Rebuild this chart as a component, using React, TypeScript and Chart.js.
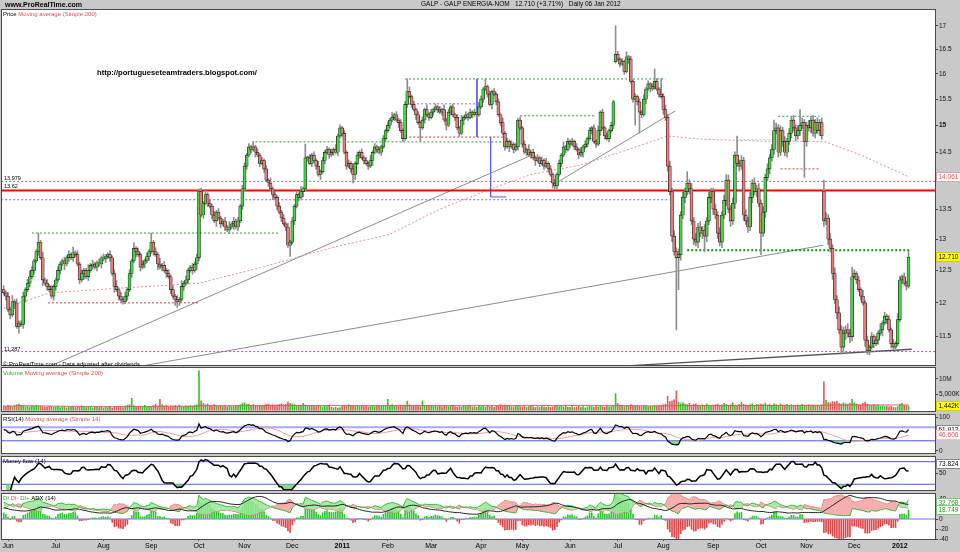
import React, { useEffect, useRef } from "react";
import { Chart, registerables } from "chart.js";
Chart.register(...registerables);

// ---------------- DATA ----------------
// daily closes, 28 May 2010 .. 06 Jan 2012 (index 0 = 28 May 2010)
const closes: number[] = [
  // Jun 2010 (incl. 2 last May days)
  12.15, 12.1, 11.9, 11.82, 12.02, 12.0, 11.65, 11.7, 11.68, 12.1, 12.2, 12.3, 12.4, 12.5, 12.65, 12.8, 12.95, 12.7, 12.35, 12.3, 12.25, 12.2, 12.1, 12.25,
  // Jul
  12.35, 12.5, 12.6, 12.65, 12.6, 12.7, 12.75, 12.7, 12.78, 12.75, 12.6, 12.35, 12.45, 12.5, 12.4, 12.5, 12.58, 12.6, 12.55, 12.62, 12.6, 12.7,
  // Aug
  12.68, 12.72, 12.75, 12.7, 12.45, 12.25, 12.2, 12.1, 12.05, 12.02, 12.1, 12.2, 12.45, 12.65, 12.85, 12.8, 12.75, 12.55, 12.6, 12.65, 12.72, 12.8,
  // Sep
  12.95, 12.8, 12.75, 12.6, 12.55, 12.58, 12.5, 12.45, 12.4, 12.2, 12.1, 12.05, 12.02, 12.05, 12.25, 12.3, 12.35, 12.5, 12.55, 12.5, 12.6, 12.7,
  // Oct
  13.8, 13.4, 13.6, 13.75, 13.6, 13.55, 13.4, 13.3, 13.45, 13.35, 13.25, 13.3, 13.2, 13.15, 13.2, 13.25, 13.3, 13.2, 13.3, 13.55, 13.85,
  // Nov
  14.25, 14.45, 14.6, 14.55, 14.6, 14.5, 14.45, 14.3, 14.35, 14.2, 14.0, 13.95, 13.85, 13.75, 13.7, 13.55, 13.45, 13.35, 13.25, 13.2, 12.9, 12.95,
  // Dec
  13.3, 13.55, 13.75, 13.7, 13.8, 13.85, 14.4, 14.4, 14.3, 14.45, 14.35, 14.25, 14.1, 14.15, 14.35, 14.5, 14.55, 14.45, 14.5, 14.55, 14.5, 14.8, 14.95,
  // Jan 2011
  14.85, 14.5, 14.25, 14.3, 14.2, 14.1, 14.3, 14.45, 14.5, 14.4, 14.35, 14.3, 14.25, 14.35, 14.5, 14.6, 14.55, 14.5, 14.6, 14.75, 14.9,
  // Feb
  15.0, 15.1, 15.15, 15.2, 15.1, 15.05, 14.9, 14.75, 15.4, 15.65, 15.55, 15.4, 15.3, 15.2, 15.05, 14.95, 15.1, 15.3, 15.2, 15.15,
  // Mar
  15.25, 15.3, 15.35, 15.3, 15.25, 15.3, 15.1, 15.0, 15.25, 15.35, 15.2, 15.15, 14.95, 14.85, 15.1, 15.15, 15.2, 15.15, 15.25, 15.2, 15.25, 15.2, 15.35,
  // Apr
  15.5, 15.7, 15.75, 15.6, 15.4, 15.65, 15.6, 15.45, 15.2, 15.05, 14.85, 14.6, 14.7, 14.6, 14.65, 14.55, 14.6, 15.1, 14.95,
  // May
  14.65, 14.5, 14.55, 14.45, 14.5, 14.4, 14.35, 14.4, 14.3, 14.35, 14.25, 14.3, 14.2, 14.1, 13.95, 13.9, 14.1, 14.3, 14.45, 14.6, 14.55, 14.7,
  // Jun
  14.65, 14.7, 14.6, 14.55, 14.45, 14.5, 14.6, 14.65, 14.75, 14.9, 14.95, 14.7, 14.65, 14.9, 15.25, 14.95, 14.8, 14.75, 14.9, 15.0, 15.45, 16.4,
  // Jul
  16.3, 16.2, 16.25, 16.05, 16.35, 16.3, 15.85, 15.5, 15.55, 15.45, 15.25, 15.2, 15.5, 15.7, 15.8, 15.7, 15.75, 15.85, 15.7, 15.6, 15.55,
  // Aug
  15.3, 15.15, 14.25, 13.8, 13.05, 12.8, 12.7, 12.75, 13.4, 13.7, 13.8, 13.95, 13.85, 13.3, 13.0, 12.95, 13.2, 13.1, 13.15, 13.05, 13.3, 13.7, 13.8,
  // Sep
  13.5, 13.4, 13.1, 12.95, 13.4, 13.65, 14.0, 13.5, 13.3, 13.6, 14.45, 14.3, 14.25, 14.35, 13.4, 13.3, 13.2, 13.7, 13.95, 13.8, 13.85, 13.6,
  // Oct
  13.1, 13.45, 14.05, 14.2, 14.4, 14.55, 14.9, 14.95, 14.5, 14.9, 14.7, 14.5, 14.7, 14.85, 15.1, 14.95, 14.8, 14.9, 15.0, 15.05, 14.7,
  // Nov
  15.0, 14.95, 15.1, 14.85, 15.05, 14.9, 15.05, 14.8, 13.3, 13.35, 13.0, 12.85, 12.45, 12.05, 11.85, 11.6, 11.35, 11.55, 11.6, 11.55, 11.5, 12.4,
  // Dec
  12.45, 12.35, 12.2, 12.1, 12.0, 11.45, 11.3, 11.35, 11.5, 11.4, 11.45, 11.55, 11.6, 11.7, 11.8, 11.75, 11.6, 11.4, 11.35, 11.4, 11.75,
  // Jan 2012
  12.35, 12.4, 12.3, 12.255, 12.71,
];

const firstOpen = 12.2;
const gapOpenIdx = [282, 378];
const gapOpenVal = [16.25, 13.8];

// wick lengths, one digit per day (x 0.03)
const wickUpCodes =
  "212131211212321121312121" + "1211212131212113121121" + "2112123121212131212121" + "2121312121212131211212" +
  "221312121211213121212" + "2121312121213121212121" + "21213121212131212121312" + "121213121212131212121" +
  "21312121213121212131" + "21212131212121312121213" + "2131212121312121212" + "1213121212131212121312" +
  "1212131212121312121213" + "212131212121312121213" + "23232323232323232323232" + "2323232323232323232323" +
  "232323232323232323232" + "2323232323232323232323" + "212131212121312121213" + "21213";
const wickDnCodes =
  "121213121231212121312112" + "2121312121121312121212" + "1212131212121213121212" + "1213121212131212121213" +
  "312121213121212131212" + "1212131212121312121212" + "12121312121213121212121" + "212121312121213121212" +
  "12121312121213121212" + "12121213121212131212121" + "1212131212121312121" + "2121213121212131212121" +
  "2121213121212131212121" + "121213121212131212121" + "32323232323232323232323" + "3232323232323232323232" +
  "323232323232323232323" + "3232323232323232323232" + "121213121212131212121" + "12121";
const WICK_UNIT = 0.03;

const highIdx = [16, 68, 90, 115, 139, 186, 222, 282, 287, 300, 303, 315, 333, 338, 355, 367, 378, 391];
const highVal = [13.1, 13.1, 13.85, 14.7, 14.65, 15.9, 15.9, 17.0, 16.45, 16.1, 15.9, 14.15, 14.1, 14.8, 15.1, 15.3, 14.0, 12.55];
const lowIdx = [7, 55, 80, 90, 132, 161, 192, 254, 291, 293, 310, 311, 323, 349, 369, 386, 398];
const lowVal = [11.55, 11.98, 11.93, 12.65, 12.72, 13.95, 14.7, 13.85, 15.0, 14.85, 11.6, 12.2, 12.8, 12.75, 14.05, 11.25, 11.25];

// daily volume, millions
const volumesM: number[] = [
  1.4, 1.2, 1.6, 1.3, 1.1, 1.5, 1.8, 2.0, 1.6, 1.4, 1.2, 1.3, 1.1, 1.5, 1.2, 1.6, 1.4, 1.3, 1.2, 1.0, 1.1, 1.3, 1.2, 1.0,
  1.1, 1.3, 0.9, 1.0, 1.2, 0.8, 1.1, 1.0, 1.3, 0.9, 1.2, 1.0, 1.4, 1.1, 0.9, 1.0, 1.2, 0.8, 1.0, 1.1, 0.9, 1.2,
  0.8, 1.0, 0.9, 1.1, 0.7, 1.3, 1.1, 1.2, 1.0, 0.9, 1.4, 1.6, 1.8, 3.8, 1.5, 1.2, 1.0, 1.3, 1.1, 1.6, 1.0, 1.2,
  1.2, 1.5, 2.0, 1.4, 3.5, 1.8, 1.3, 1.6, 1.2, 1.4, 1.1, 1.5, 1.3, 1.7, 1.2, 1.1, 1.4, 1.2, 1.5, 1.3, 1.6, 1.8,
  12.5, 3.0, 2.2, 1.8, 2.0, 1.6, 1.4, 1.8, 1.5, 1.3, 1.6, 1.2, 1.4, 1.1, 1.5, 1.3, 1.2, 1.4, 1.6, 1.8, 2.2,
  2.4, 1.9, 2.0, 1.6, 1.8, 1.5, 1.4, 1.6, 1.3, 1.7, 1.9, 2.0, 1.6, 1.8, 1.5, 1.7, 1.9, 2.1, 1.8, 2.0, 2.6, 2.2,
  2.0, 1.8, 1.6, 1.5, 1.4, 2.2, 1.7, 1.5, 1.3, 1.6, 1.4, 1.2, 1.5, 1.3, 1.1, 1.4, 1.2, 1.6, 1.0, 0.8, 1.0, 0.7, 0.9,
  1.4, 1.6, 1.3, 1.8, 1.5, 1.4, 1.2, 1.6, 1.3, 1.5, 1.2, 1.4, 1.1, 1.3, 1.5, 1.2, 1.4, 1.6, 1.3, 1.5, 1.4,
  3.5, 1.6, 1.8, 1.4, 1.5, 1.3, 1.6, 1.4, 1.7, 2.9, 1.8, 1.5, 1.3, 1.6, 1.4, 1.2, 3.0, 1.6, 1.4, 1.3,
  1.5, 1.3, 1.6, 1.2, 1.4, 1.1, 1.5, 1.3, 1.2, 1.4, 1.6, 1.2, 1.0, 1.3, 1.1, 1.4, 1.2, 1.5, 1.3, 1.1, 1.2, 1.0, 1.3,
  1.2, 1.4, 1.1, 1.5, 1.2, 1.3, 1.0, 1.4, 1.6, 1.8, 1.5, 1.7, 1.3, 1.4, 1.2, 1.1, 1.5, 1.3, 1.2,
  1.1, 1.3, 1.0, 1.2, 1.4, 1.1, 0.9, 1.2, 1.0, 1.3, 1.1, 1.0, 1.2, 0.9, 1.1, 1.3, 1.5, 1.2, 1.4, 1.1, 1.3, 1.0,
  1.0, 1.2, 0.9, 1.1, 1.3, 1.0, 1.2, 0.8, 1.1, 1.4, 1.2, 1.0, 1.3, 1.1, 1.5, 1.2, 1.0, 1.3, 1.1, 1.2, 1.6, 5.3,
  2.2, 1.5, 1.4, 1.2, 1.6, 1.3, 1.8, 1.5, 1.4, 1.6, 1.3, 1.2, 1.5, 1.4, 1.1, 1.3, 1.2, 1.5, 1.3, 1.4, 1.6,
  1.8, 2.0, 4.5, 2.8, 3.0, 3.4, 6.2, 2.6, 2.2, 2.5, 2.0, 1.8, 2.2, 1.6, 1.9, 2.1, 1.7, 1.5, 1.8, 1.6, 2.0, 1.7, 1.5,
  1.6, 1.8, 2.0, 1.5, 1.7, 2.2, 1.9, 1.6, 1.8, 2.4, 1.7, 1.5, 1.9, 2.6, 2.0, 1.7, 1.5, 1.8, 2.1, 1.6, 1.9, 1.7,
  2.0, 1.8, 2.3, 1.7, 1.9, 1.6, 2.1, 1.8, 1.5, 2.0, 1.7, 1.6, 1.9, 1.5, 1.8, 1.4, 1.6, 1.7, 1.5, 1.9, 1.6,
  1.5, 1.8, 1.6, 1.7, 1.4, 1.6, 1.5, 1.8, 9.0, 3.2, 2.5, 2.4, 2.8, 2.6, 2.9, 2.2, 2.0, 2.4, 2.1, 1.9, 2.2, 3.5,
  2.4, 2.0, 1.8, 1.6, 2.2, 2.6, 2.0, 1.7, 1.5, 1.8, 1.4, 1.6, 1.3, 1.5, 1.2, 1.4, 1.1, 1.3, 1.0, 0.9, 1.2,
  2.0, 2.2, 1.6, 1.5, 1.442,
];

// 200-day moving average of price, read at sample days
const ma200Idx = [0, 12, 21, 52, 90, 118, 150, 178, 201, 224, 243, 266, 284, 306, 322, 353, 378, 395, 417];
const ma200Val = [11.92, 12.05, 12.15, 12.22, 12.3, 12.54, 12.85, 13.08, 13.5, 13.84, 14.1, 14.27, 14.5, 14.8, 14.74, 14.7, 14.7, 14.45, 14.06];

// x axis: first trading day of each month
const monthIdx = [2, 24, 46, 68, 90, 111, 133, 156, 177, 197, 220, 239, 261, 283, 304, 327, 349, 370, 392, 413];
const monthLabels = ["Jun", "Jul", "Aug", "Sep", "Oct", "Nov", "Dec", "2011", "Feb", "Mar", "Apr", "May", "Jun", "Jul", "Aug", "Sep", "Oct", "Nov", "Dec", "2012"];

const priceTicks = [11.5, 12, 12.5, 13, 13.5, 14, 14.5, 15, 15.5, 16, 16.5, 17];
const volTicks = [5, 10];
const volTickLabels = ["5,000K", "10M"];
const rsiTicks = [0, 100];
const mfiTicks = [50];
const dmiTicks = [-40, -20, 0, 40];

// drawn support / resistance levels
const levelPrice = [13.82, 13.979, 13.66, 11.287, 13.1, 14.69, 15.9, 15.18, 12.82, 15.17, 14.73, 12.0, 14.78, 14.2, 15.41];
const levelFrom = [-3, -3, -3, -3, 13, 116, 185, 238, 315, 357, 339, 20.4, 185, 358, 185];
const levelTo = [432, 432, 307, 432, 127.3, 231, 305, 273, 418, 376, 355, 90.5, 231, 376, 219.5];
const levelKind = ["redSolid", "purple", "purple", "purple", "green", "green", "green", "green", "greenBold", "green", "greenLight", "red", "red", "red", "purple"];

// trend lines (start index/price, end index/price)
const trendStartIdx = [21.3, 62.9, 253.3, 284];
const trendStartPrice = [11.08, 11.08, 13.92, 11.08];
const trendEndIdx = [243.5, 377.6, 309.4, 418.5];
const trendEndPrice = [14.45, 12.9, 15.27, 11.32];

// blue annotation segments
const markFromIdx = [218.1, 224.4, 224.4];
const markFromPrice = [15.9, 14.78, 13.71];
const markToIdx = [218.1, 224.4, 231.7];
const markToPrice = [14.78, 13.71, 13.71];

// last-value boxes shown on the right axis
const lastMa = 14.061;
const lastVolK = 1442;
const lastRsi = 61.912;
const lastRsiMa = 46.606;
const lastMfi = 73.824;
const lastDi1 = 32.768;
const lastDi2 = 18.749;

// ---------------- DERIVED ----------------
const N = closes.length;
const idx = closes.map((_, i) => i);
const opens = closes.map((c, i) => {
  const g = gapOpenIdx.indexOf(i);
  if (g >= 0) return gapOpenVal[g];
  return i === 0 ? firstOpen : closes[i - 1];
});
const highs = closes.map((c, i) => {
  const h = highIdx.indexOf(i);
  if (h >= 0) return highVal[h];
  return Math.max(opens[i], c) + Number(wickUpCodes[i] || "1") * WICK_UNIT;
});
const lows = closes.map((c, i) => {
  const h = lowIdx.indexOf(i);
  if (h >= 0) return lowVal[h];
  return Math.min(opens[i], c) - Number(wickDnCodes[i] || "1") * WICK_UNIT;
});
const up = closes.map((c, i) => c >= opens[i]);

function sma(arr: (number | null)[], n: number) {
  return arr.map((_, i) => {
    const s = arr.slice(Math.max(0, i - n + 1), i + 1).filter((v) => v != null) as number[];
    return s.length ? s.reduce((a, b) => a + b, 0) / s.length : null;
  });
}
// Wilder RSI, seeded with the average gain/loss of the first n days
function rsiCalc(cl: number[], n: number) {
  let ag = 0, al = 0;
  for (let i = 1; i <= n; i++) { const d = cl[i] - cl[i - 1]; ag += Math.max(d, 0) / n; al += Math.max(-d, 0) / n; }
  const out: (number | null)[] = [100 - 100 / (1 + ag / al)];
  for (let i = 1; i < cl.length; i++) {
    const d = cl[i] - cl[i - 1];
    ag = (ag * (n - 1) + Math.max(d, 0)) / n;
    al = (al * (n - 1) + Math.max(-d, 0)) / n;
    out.push(al === 0 ? 100 : 100 - 100 / (1 + ag / al));
  }
  return out;
}
function mfiCalc(n: number) {
  const tp = closes.map((c, i) => (highs[i] + lows[i] + c) / 3);
  return tp.map((_, i) => {
    if (i === 0) return null;
    let pos = 0, neg = 0;
    for (let k = Math.max(1, i - n + 1); k <= i; k++) {
      const f = tp[k] * volumesM[k];
      if (tp[k] > tp[k - 1]) pos += f; else if (tp[k] < tp[k - 1]) neg += f;
    }
    return neg === 0 ? 100 : 100 - 100 / (1 + pos / neg);
  });
}
// Wilder DMI / ADX, seeded with the first n days
function dmiCalc(n: number) {
  const tr: number[] = [0], pdm: number[] = [0], mdm: number[] = [0];
  for (let i = 1; i < N; i++) {
    tr.push(Math.max(highs[i] - lows[i], Math.abs(highs[i] - closes[i - 1]), Math.abs(lows[i] - closes[i - 1])));
    const u = highs[i] - highs[i - 1], d = lows[i - 1] - lows[i];
    pdm.push(u > d && u > 0 ? u : 0);
    mdm.push(d > u && d > 0 ? d : 0);
  }
  let sTR = 0, sP = 0, sM = 0;
  for (let i = 1; i <= n; i++) { sTR += tr[i]; sP += pdm[i]; sM += mdm[i]; }
  const a0 = (100 * sP) / sTR, b0 = (100 * sM) / sTR;
  let adx = (100 * Math.abs(a0 - b0)) / (a0 + b0);
  const dip: (number | null)[] = [], dim: (number | null)[] = [], adxA: (number | null)[] = [];
  for (let i = 0; i < N; i++) {
    if (i > 0) { sTR = sTR - sTR / n + tr[i]; sP = sP - sP / n + pdm[i]; sM = sM - sM / n + mdm[i]; }
    const a = (100 * sP) / sTR, b = (100 * sM) / sTR;
    const dx = a + b === 0 ? 0 : (100 * Math.abs(a - b)) / (a + b);
    if (i > 0) adx = (adx * (n - 1) + dx) / n;
    dip.push(a); dim.push(b); adxA.push(adx);
  }
  return { dip, dim, adxA };
}

const rsi = rsiCalc(closes, 14);
const rsiMa = sma(rsi, 14);
const mfi = mfiCalc(14);
const { dip, dim, adxA } = dmiCalc(14);
const volMa = sma(volumesM, 200);

// ---------------- CHART HELPERS ----------------
const FONT = "'Liberation Sans', Arial, sans-serif";
const GREEN = "#3fd83f";
const RED = "#ec7878";
const X_MIN = -0.78;
const X_MAX = 429.2;

function xScale(show: boolean) {
  return {
    type: "linear",
    min: X_MIN,
    max: X_MAX,
    offset: false,
    bounds: "data",
    display: show,
    afterBuildTicks: (s: any) => { s.ticks = monthIdx.map((v) => ({ value: v })); },
    afterFit: (s: any) => { s.paddingLeft = 0; s.paddingRight = 0; if (show) s.height = 13; },
    ticks: {
      autoSkip: false, maxRotation: 0, minRotation: 0, padding: 1, color: "#000",
      font: (ctx: any) => ({ family: FONT, size: 7, weight: String(monthLabels[ctx.index] || "").startsWith("20") ? "bold" : "normal" }),
      callback: (_v: any, i: number) => monthLabels[i],
    },
    grid: { display: show, offset: false, drawOnChartArea: false, drawTicks: true, tickLength: 2, color: "#555" },
    border: { display: false },
  };
}

function yScale(type: string, min: number, max: number, ticks: number[], labels: string[], boldVal?: number) {
  return {
    type, position: "right", min, max, bounds: "data",
    afterBuildTicks: (s: any) => { s.ticks = ticks.map((v) => ({ value: v })); },
    afterFit: (s: any) => { s.width = 25; s.paddingTop = 0; s.paddingBottom = 0; },
    ticks: {
      autoSkip: false, padding: 1, color: "#111",
      font: (ctx: any) => ({ family: FONT, size: 6.5, weight: ctx.tick && ctx.tick.value === boldVal ? "bold" : "normal" }),
      callback: (_v: any, i: number) => labels[i],
    },
    grid: { drawOnChartArea: false, drawTicks: true, tickLength: 3, color: "#444" },
    border: { display: false },
  };
}

function boxesPlugin(boxes: { v: number; t: string; bg: string; fg: string; bd: string }[]) {
  return {
    id: "valueBoxes",
    afterDraw(chart: any) {
      const s = chart.scales.y;
      const ctx = chart.ctx;
      ctx.save();
      ctx.font = `6.5px ${FONT}`;
      ctx.textBaseline = "middle";
      boxes.forEach((b) => {
        const y = Math.round(s.getPixelForValue(b.v));
        const w = Math.ceil(ctx.measureText(b.t).width) + 3;
        ctx.fillStyle = b.bg;
        ctx.fillRect(937, y - 4, w, 8);
        ctx.strokeStyle = b.bd;
        ctx.lineWidth = 1;
        ctx.strokeRect(936.5, y - 4.5, w + 1, 9);
        ctx.fillStyle = b.fg;
        ctx.fillText(b.t, 938.5, y + 0.5);
      });
      ctx.restore();
    },
  };
}

function baseOptions(y: any, showX: boolean, padBottom: number) {
  return {
    responsive: false,
    animation: false,
    devicePixelRatio: 1,
    events: [],
    layout: { padding: { left: 2, right: 0, top: 6, bottom: padBottom } },
    plugins: { legend: { display: false }, tooltip: { enabled: false } },
    scales: { x: xScale(showX), y },
  };
}

function line(data: any[], color: string, width: number, dash: number[] = [], order = 5, extra: any = {}) {
  return { type: "line", data, borderColor: color, backgroundColor: color, borderWidth: width, borderDash: dash, pointRadius: 0, fill: false, tension: 0, spanGaps: true, order, ...extra };
}
const fullLevel = (v: number) => [{ x: -3, y: v }, { x: 432, y: v }];

const levelStyles: Record<string, [string, number, number[]]> = {
  redSolid: ["#ff0000", 2, []],
  purple: ["#9a5ad8", 1, [2, 2]],
  green: ["#2f9a2f", 1, [2, 2]],
  greenBold: ["#168c16", 2, [2, 2]],
  greenLight: ["#a6d8a6", 1, [2, 2]],
  red: ["#e03a3a", 1, [2, 2]],
};

// ---------------- CONFIGS ----------------
function priceConfig(): any {
  const datasets: any[] = [];
  levelPrice.forEach((p, k) => {
    const [c, w, d] = levelStyles[levelKind[k]];
    datasets.push(line([{ x: levelFrom[k], y: p }, { x: levelTo[k], y: p }], c, w, d, 6));
  });
  trendStartIdx.forEach((s, k) => {
    datasets.push(line([{ x: s, y: trendStartPrice[k] }, { x: trendEndIdx[k], y: trendEndPrice[k] }], k === 3 ? "#555" : "#8c8c8c", k === 3 ? 1.3 : 1, [], 6));
  });
  markFromIdx.forEach((s, k) => {
    datasets.push(line([{ x: s, y: markFromPrice[k] }, { x: markToIdx[k], y: markToPrice[k] }], k === 2 ? "#a8a8f0" : "#5a5aff", k === 2 ? 2 : 1, [], 6));
  });
  datasets.push(line(ma200Idx.map((i, k) => ({ x: i, y: ma200Val[k] })), "#ec8f8f", 1, [2, 2], 6));
  datasets.push({
    type: "bar", data: idx.map((i) => ({ x: i, y: [lows[i], highs[i]] })), backgroundColor: "#8e8e8e",
    barThickness: 1, grouped: false, borderWidth: 0, order: 2,
  });
  datasets.push({
    type: "bar", data: idx.map((i) => ({ x: i, y: [opens[i], closes[i]] })),
    backgroundColor: idx.map((i) => (up[i] ? GREEN : RED)), borderColor: "#262626", borderWidth: 0.7,
    borderSkipped: false, barThickness: 3, minBarLength: 1, grouped: false, order: 1,
  });
  return {
    type: "bar",
    data: { datasets },
    options: baseOptions(yScale("logarithmic", 11.098, 17.339, priceTicks, priceTicks.map(String), 15), false, 6),
    plugins: [boxesPlugin([
      { v: lastMa, t: lastMa.toFixed(3), bg: "#ffffff", fg: "#e05050", bd: "#e8a0a0" },
      { v: closes[N - 1], t: closes[N - 1].toFixed(3), bg: "#ffff00", fg: "#000", bd: "#d0d000" },
    ])],
  };
}

function volConfig(): any {
  return {
    type: "bar",
    data: {
      datasets: [
        line(idx.map((i) => ({ x: i, y: volMa[i] })), "#e05a5a", 1, [], 1),
        { type: "bar", data: idx.map((i) => ({ x: i, y: volumesM[i] })), backgroundColor: idx.map((i) => (up[i] ? "#2ec82e" : "#e06060")), barThickness: 1, grouped: false, order: 2 },
      ],
    },
    options: baseOptions(yScale("linear", -0.2, 13.4, volTicks, volTickLabels), false, 6),
    plugins: [boxesPlugin([{ v: lastVolK / 1000, t: "1,442K", bg: "#ffff00", fg: "#000", bd: "#d0d000" }])],
  };
}

function rsiConfig(): any {
  return {
    type: "line",
    data: {
      datasets: [
        line(fullLevel(70), "#a8a8ff", 2, [], 5),
        line(fullLevel(30), "#4a4aee", 1, [], 5),
        line(idx.map((i) => ({ x: i, y: rsiMa[i] })), "#f09a9a", 1, [], 3),
        line(idx.map((i) => ({ x: i, y: rsi[i] })), "#000", 1.2, [], 1, { fill: { target: { value: 30 }, above: "rgba(0,0,0,0)", below: "rgba(120,215,120,0.9)" } }),
      ],
    },
    options: baseOptions(yScale("linear", -5.9, 105.9, rsiTicks, ["0", "100"]), false, 6),
    plugins: [boxesPlugin([
      { v: lastRsi, t: lastRsi.toFixed(3), bg: "#fff", fg: "#000", bd: "#888" },
      { v: lastRsiMa, t: lastRsiMa.toFixed(3), bg: "#fff", fg: "#e05050", bd: "#f0c0c0" },
    ])],
  };
}

function mfiConfig(): any {
  return {
    type: "line",
    data: {
      datasets: [
        line(fullLevel(80), "#5050f0", 1, [], 5),
        line(fullLevel(20), "#5050f0", 1, [], 5),
        line(idx.map((i) => ({ x: i, y: mfi[i] })), "#000", 1.5, [], 1, { fill: { target: { value: 20 }, above: "rgba(0,0,0,0)", below: "rgba(120,215,120,0.9)" } }),
      ],
    },
    options: baseOptions(yScale("linear", 4.9, 92.5, mfiTicks, ["50"]), false, 6),
    plugins: [boxesPlugin([{ v: lastMfi, t: lastMfi.toFixed(3), bg: "#fff", fg: "#000", bd: "#888" }])],
  };
}

function dmiConfig(): any {
  const hist = idx.map((i) => (dip[i] == null ? null : (dip[i] as number) - (dim[i] as number)));
  return {
    type: "bar",
    data: {
      datasets: [
        line(idx.map((i) => ({ x: i, y: dip[i] })), "#3cb43c", 1, [], 2, { fill: { target: 1, above: "rgba(150,232,150,0.85)", below: "rgba(245,160,160,0.85)" } }),
        line(idx.map((i) => ({ x: i, y: dim[i] })), "#e07070", 1, [], 2),
        line(idx.map((i) => ({ x: i, y: adxA[i] })), "#222", 1, [], 1),
        line(fullLevel(0), "#a0a0ff", 1.5, [], 4),
        { type: "bar", data: idx.map((i) => ({ x: i, y: hist[i] })), backgroundColor: hist.map((h) => ((h || 0) >= 0 ? "#2ec82e" : "#e04848")), barThickness: 1, grouped: false, order: 3 },
      ],
    },
    options: baseOptions(yScale("linear", -40, 50, dmiTicks, ["-40", "-20", "0", "40"]), true, 0),
    plugins: [boxesPlugin([
      { v: lastDi1, t: lastDi1.toFixed(3), bg: "#fff", fg: "#2a9a2a", bd: "#7c7" },
      { v: lastDi2, t: lastDi2.toFixed(3), bg: "#fff", fg: "#2a9a2a", bd: "#7c7" },
    ])],
  };
}

// ---------------- COMPONENT ----------------
const panels = [
  { key: "price", top: 10, bottom: 365, extraBottom: 6, cfg: priceConfig },
  { key: "vol", top: 368, bottom: 411, extraBottom: 6, cfg: volConfig },
  { key: "rsi", top: 415, bottom: 453, extraBottom: 6, cfg: rsiConfig },
  { key: "mfi", top: 457, bottom: 490, extraBottom: 6, cfg: mfiConfig },
  { key: "dmi", top: 494, bottom: 539, extraBottom: 13, cfg: dmiConfig },
];

const txt = (left: number, top: number, size: number, children: any, extra: any = {}) => (
  <div style={{ position: "absolute", left, top, fontSize: size, lineHeight: 1, whiteSpace: "nowrap", zIndex: 5, ...extra }}>{children}</div>
);

export default function App() {
  const refs = useRef<(HTMLCanvasElement | null)[]>([]);
  useEffect(() => {
    Chart.defaults.font.family = FONT;
    const charts = panels.map((p, k) => new Chart(refs.current[k] as HTMLCanvasElement, p.cfg()));
    return () => charts.forEach((c) => c.destroy());
  }, []);

  return (
    <div style={{ position: "absolute", left: 0, top: 0, width: 960, height: 552, background: "#c9c9c9", overflow: "hidden", fontFamily: FONT, color: "#000" }}>
      {/* header */}
      {txt(5, 1, 7, "www.ProRealTime.com", { fontWeight: "bold" })}
      {txt(421, 1, 6.5, "GALP - GALP ENERGIA-NOM\u00a0\u00a0\u00a012.710 (+3.71%)\u00a0\u00a0\u00a0Daily 06 Jan 2012")}
      {/* panel frames */}
      {panels.map((p) => (
        <div key={p.key} style={{ position: "absolute", left: 1, top: p.top - 1, width: 935, height: p.bottom - p.top + 2, boxSizing: "border-box", border: "1px solid #4a4a4a", background: "#fff" }} />
      ))}
      {panels.map((p, k) => {
        const h = p.bottom - p.top + 6 + p.extraBottom;
        return (
          <canvas key={p.key + "c"} ref={(el) => { refs.current[k] = el; }} width={960} height={h}
            style={{ position: "absolute", left: 0, top: p.top - 6, width: 960, height: h, zIndex: 2 }} />
        );
      })}
      {/* price panel texts */}
      {txt(3, 11, 6, <><span>Price </span><span style={{ color: "#e05050" }}>Moving average (Simple 200)</span></>)}
      {txt(97, 69, 7.6, "http://portugueseteamtraders.blogspot.com/", { fontWeight: "bold" })}
      {txt(4, 176, 5.5, "13.979")}
      {txt(4, 184, 5.5, "13.62")}
      {txt(4, 347, 5.5, "11.287")}
      {txt(3, 361, 6, "\u00a9 ProRealTime.com - Data adjusted after dividends")}
      {txt(3, 370, 6, <><span style={{ color: "#2eaa2e" }}>Volume </span><span style={{ color: "#e05050" }}>Moving average (Simple 200)</span></>)}
      {txt(3, 416, 6, <><span>RSI(14) </span><span style={{ color: "#e05050" }}>Moving average (Simple 14)</span></>)}
      {txt(3, 458, 6, "Money flow (14)")}
      {txt(3, 495, 6, <><span style={{ color: "#2eaa2e" }}>DI </span><span style={{ color: "#e05050" }}>DI- </span><span style={{ color: "#2eaa2e" }}>DI+ </span><span>ADX (14)</span></>)}
    </div>
  );
}
